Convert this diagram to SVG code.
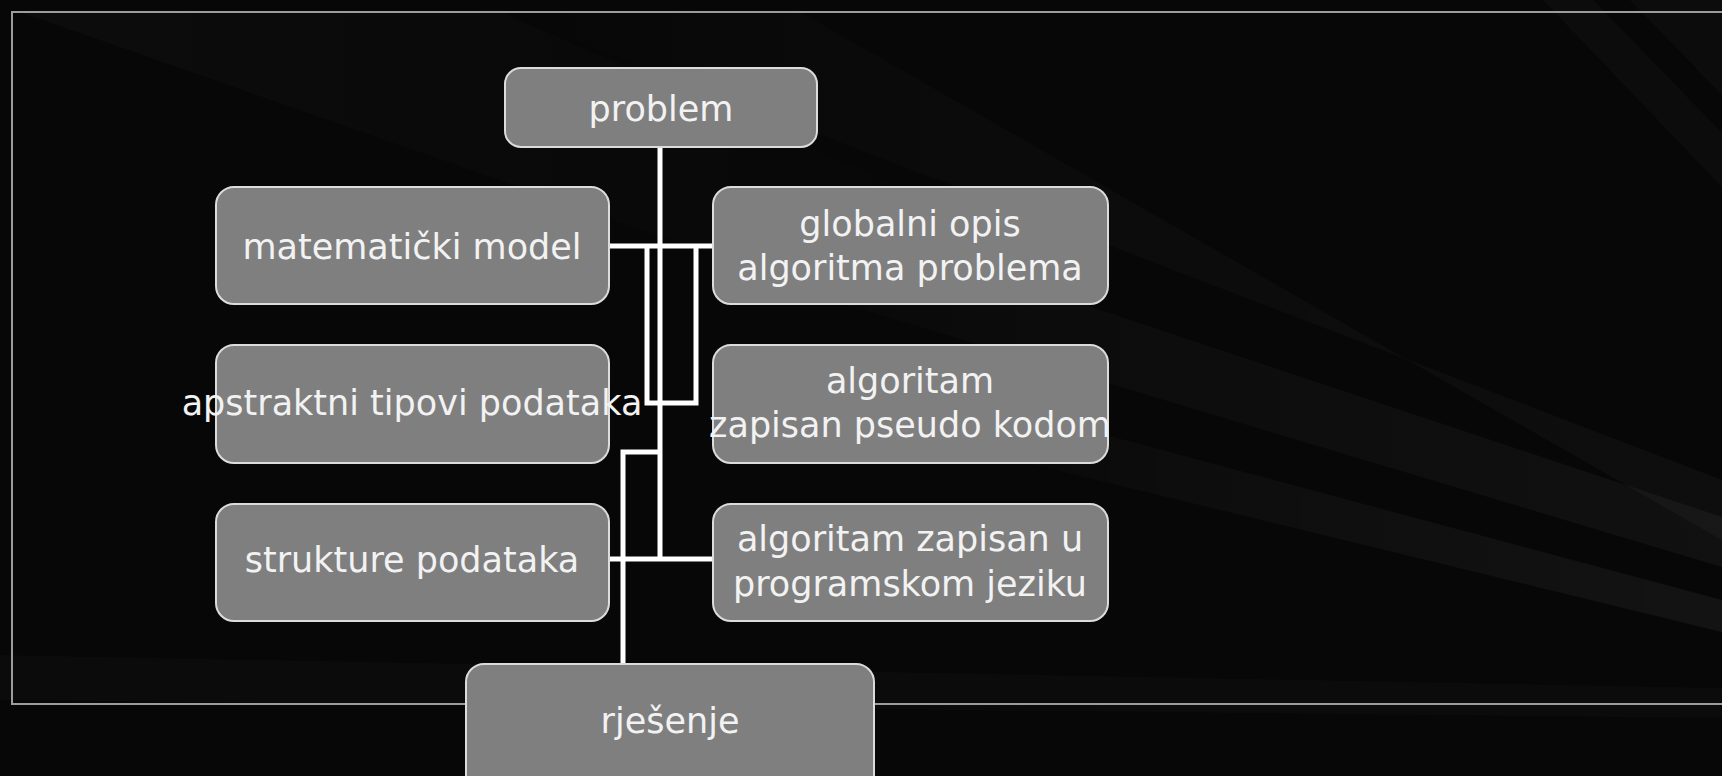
<svg xmlns="http://www.w3.org/2000/svg" width="1722" height="776" viewBox="0 0 1722 776">
  <defs>
    <linearGradient id="rayR" x1="0" y1="0" x2="1" y2="0">
      <stop offset="0" stop-color="#ffffff" stop-opacity="0"/>
      <stop offset="0.35" stop-color="#ffffff" stop-opacity="0.025"/>
      <stop offset="1" stop-color="#ffffff" stop-opacity="0.05"/>
    </linearGradient>
    <linearGradient id="rayL" x1="0" y1="0" x2="1" y2="0">
      <stop offset="0" stop-color="#ffffff" stop-opacity="0.022"/>
      <stop offset="1" stop-color="#ffffff" stop-opacity="0"/>
    </linearGradient>
    <style>
      .box { fill: #7f7f7f; stroke: #dcdcdc; stroke-width: 2; }
      .lbl { font-family: "DejaVu Sans", "Liberation Sans", sans-serif; font-size: 35px; fill: #f2f2f2; text-anchor: middle; }
      .con { fill: none; stroke: #ffffff; stroke-width: 5; stroke-linejoin: miter; }
      .frame { fill: none; stroke: #9c9c9c; stroke-width: 2; }
    </style>
  </defs>

  <!-- background -->
  <rect x="0" y="0" width="1722" height="776" fill="#070707"/>
  <g id="rays">
    <polygon points="20,12 500,12 1000,230 700,250" fill="url(#rayL)"/>
    <polygon points="500,12 800,12 1722,540 1722,480" fill="url(#rayR)" opacity="0.6"/>
    <polygon points="680,170 1722,517 1722,567 680,255" fill="url(#rayR)" opacity="0.8"/>
    <polygon points="900,380 1722,600 1722,632 900,432" fill="url(#rayR)"/>
    <polygon points="0,655 1722,688 1722,718 0,700" fill="#ffffff" fill-opacity="0.018"/>
    <polygon points="1543,0 1593,0 1722,133 1722,187" fill="#ffffff" fill-opacity="0.025"/>
    <polygon points="1630,0 1722,0 1722,95" fill="#ffffff" fill-opacity="0.022"/>
  </g>
  <path class="frame" d="M1722,12 H12 V704 H1722"/>

  <!-- connectors -->
  <g id="connectors">
    <path class="con" d="M660,147 V559"/>
    <path class="con" d="M609,246 H713"/>
    <path class="con" d="M647,246 V403 H696 V246"/>
    <path class="con" d="M609,559 H713"/>
    <path class="con" d="M660,452 H623 V664"/>
  </g>

  <!-- nodes -->
  <g id="node-problem">
    <rect class="box" x="505" y="68" width="312" height="79" rx="16"/>
    <text class="lbl" x="661" y="121">problem</text>
  </g>
  <g id="node-matematicki-model">
    <rect class="box" x="216" y="187" width="393" height="117" rx="18"/>
    <text class="lbl" x="412" y="259">matematički model</text>
  </g>
  <g id="node-globalni-opis">
    <rect class="box" x="713" y="187" width="395" height="117" rx="18"/>
    <text class="lbl" x="910" y="236">globalni opis</text>
    <text class="lbl" x="910" y="280">algoritma problema</text>
  </g>
  <g id="node-apstraktni">
    <rect class="box" x="216" y="345" width="393" height="118" rx="18"/>
    <text class="lbl" x="412" y="415">apstraktni tipovi podataka</text>
  </g>
  <g id="node-pseudo">
    <rect class="box" x="713" y="345" width="395" height="118" rx="18"/>
    <text class="lbl" x="910" y="393">algoritam</text>
    <text class="lbl" x="910" y="437">zapisan pseudo kodom</text>
  </g>
  <g id="node-strukture">
    <rect class="box" x="216" y="504" width="393" height="117" rx="18"/>
    <text class="lbl" x="412" y="572">strukture podataka</text>
  </g>
  <g id="node-programski">
    <rect class="box" x="713" y="504" width="395" height="117" rx="18"/>
    <text class="lbl" x="910" y="551">algoritam zapisan u</text>
    <text class="lbl" x="910" y="596">programskom jeziku</text>
  </g>
  <g id="node-rjesenje">
    <rect class="box" x="466" y="664" width="408" height="140" rx="18"/>
    <text class="lbl" x="670" y="733">rješenje</text>
  </g>
</svg>
